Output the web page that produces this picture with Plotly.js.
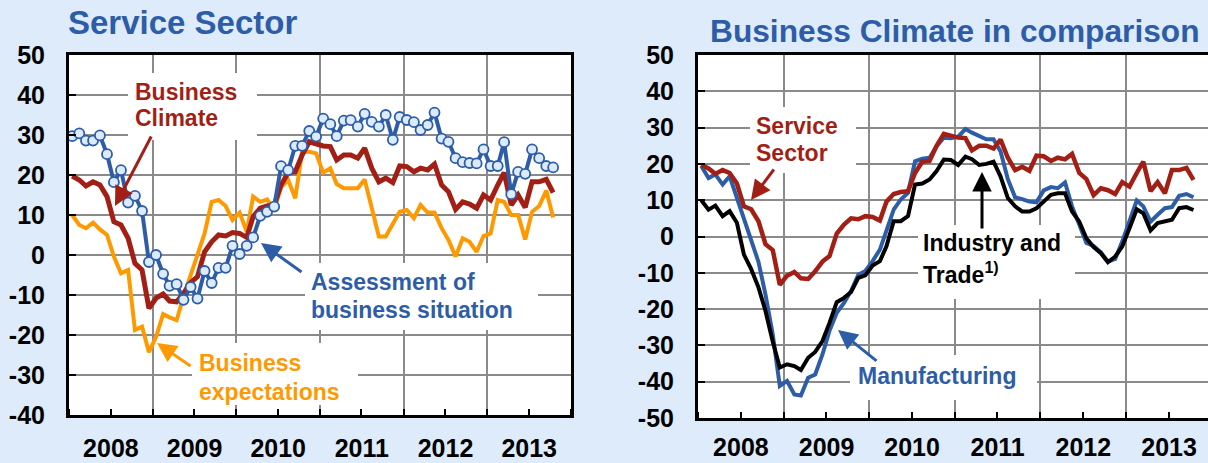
<!DOCTYPE html>
<html><head><meta charset="utf-8">
<script src="https://cdn.plot.ly/plotly-3.0.1.min.js"></script>
<style>html,body{margin:0;padding:0;background:#DDEBFA;overflow:hidden}</style>
</head><body><div id="chart" style="width:1208px;height:463px"></div>
<script>
// ---- data (monthly, Jan 2008 .. Oct 2013) ----
const startYear = 2008;
const nMonths = 70;
const yearLabels = ['2008','2009','2010','2011','2012','2013'];

const businessClimate = [19.75,18.75,17.25,18.3,17.5,14.6,8.3,7.5,4.2,-2.1,-3.75,-13.3,
  -10.8,-9.75,-11.5,-11.7,-9.6,-6.9,-5.4,0.8,3.3,5,4.75,5.6,
  5.4,4.4,9.6,11.7,12.25,12.5,17.5,20.6,20.8,25,28.3,27.8,
  27.25,27.1,23.75,25,25,24.2,26.7,21.7,18.3,19.2,18.1,22.25,
  22.1,20.8,21.7,21.25,22.75,17.5,15.8,11.4,13.3,12.75,11.7,15,
  13.75,17.5,20.6,12.5,15,11.9,18.3,18.3,18.9,15.6];

const businessExpectations = [10,7.5,6.7,8.1,6.4,5,-0.4,-4.6,-3.75,-18.75,-17.9,-24.3,
  -20.5,-14.8,-15.6,-16.3,-10.4,-5,0,5.4,13.3,13.75,12.25,8.75,
  10.6,5.8,14.6,13.3,13.9,11.25,16.9,18.75,14.2,25.8,25.8,25.4,
  20.6,21.7,17.75,16.7,16.7,16.7,18.9,11.25,4.6,4.6,7.75,10.8,
  11.25,9.2,12.5,10.6,10.6,6.7,3.75,-0.4,4.2,3.3,0.8,4.75,
  5.4,13.75,13.3,10,10,3.9,10.8,12.25,16.1,9.4];

const businessSituation = [29.7,30.4,28.6,28.6,29.9,25.2,18.2,21.2,13.1,14.8,11,-1.75,
  0,-4.7,-7.7,-7.3,-11.2,-8,-10.9,-4,-7,-3.2,-3.2,2.3,
  0.25,2.3,4.4,9.8,10.8,12.1,22.2,21.2,27.3,27.3,31,29.6,
  34.1,32.7,29.7,33.6,33.7,32.1,35.3,33.3,32.1,35,28.8,34.5,
  33.75,33.2,31.25,32.5,35.6,29.1,28.3,24.2,23.2,23,22.9,26.4,
  22.25,22.25,28.2,15.2,20.8,20.3,26.4,24.2,22.25,21.9];

const serviceSector = businessClimate; // same ifo series, shown in both panels

const manufacturing = [19.4,16.1,17.1,14.3,16.6,10.6,5,-1,-7,-16,-27,-41.2,
  -39.8,-43.5,-43.8,-38.9,-38,-32.5,-26,-21,-18.3,-15,-10.5,-9.5,
  -6.8,-3.6,1.9,7.4,10.2,12,20.7,21.4,21.7,24.9,27.2,27.1,
  27.5,29.6,28.6,27.7,26.8,26.8,23.4,15.8,10.8,10.3,9.6,9.4,
  12.7,13.6,13.3,14.9,8.3,3.2,-1.8,-2.6,-4.4,-6.9,-6.2,-1.4,
  4.1,9.9,8.3,4.1,6,7.8,8.1,11.2,11.7,10.8];

const industryTrade = [10,7.4,8.5,5.6,7,3.8,-5,-9,-14,-20.5,-29,-36.1,
  -35.2,-35.7,-36.8,-33.4,-31.8,-28.8,-23.8,-18.1,-16.9,-15.3,-11.4,-10.7,
  -8,-6.8,-2.7,4.2,4.2,5.6,14.3,14.6,15.7,18,21.2,21.1,
  19.7,22,21.3,19.7,20,20.6,16.5,10.6,8.3,6.9,6.9,7.8,
  9.6,11.5,11.9,11.9,6.9,4.1,-0.5,-2.9,-4.6,-7.1,-5.5,-2.8,
  2.3,7.5,6.4,1.7,3.7,4.1,4.6,7.8,8.1,7.3];

const leftTickVals = [-40,-30,-20,-10,0,10,20,30,40,50];
const leftTickText = ['-40','-30','-20','-10','0','10','20','30','40','50'];
const rightTickVals = [-50,-40,-30,-20,-10,0,10,20,30,40,50];
const rightTickText = ['-50','-40','-30','-20','-10','0','10','20','30','40','50'];

// month dates (mid-month)
const months = [];
for (let k = 0; k < nMonths; k++) {
  const y = startYear + Math.floor(k / 12);
  const m = (k % 12) + 1;
  months.push(y + '-' + String(m).padStart(2, '0') + '-15');
}

// ---- styling ----
const W = 1208, H = 463;
const RED = '#A21F16', ORANGE = '#FF9900', BLUE = '#2E5DA8', BLACK = '#000000';
const GRID = '#8A8A8A';
const FONT = 'Liberation Sans, Arial, sans-serif';
const px = v => v / W;
const py = v => 1 - v / H;

function xAxis(extra) {
  return Object.assign({
    type: 'date', tickmode: 'linear', tick0: '2008-01-01', dtick: 'M12',
    ticklabelmode: 'period', tickformat: '%Y',
    showgrid: true, gridcolor: GRID, gridwidth: 2,
    ticks: 'inside', ticklen: 6, tickwidth: 2, tickcolor: BLACK,
    minor: {dtick: 'M6', tick0: '2008-01-01', ticks: 'inside', ticklen: 6, tickwidth: 2, tickcolor: BLACK, showgrid: false},
    showline: true, linecolor: BLACK, linewidth: 3, mirror: true,
    tickfont: {family: FONT, size: 25, color: BLACK, weight: 'bold'},
    ticklabelstandoff: 9, zeroline: false, fixedrange: true
  }, extra);
}
function yAxis(extra) {
  return Object.assign({
    tickmode: 'array', showgrid: true, gridcolor: GRID, gridwidth: 2,
    ticks: 'inside', ticklen: 7, tickwidth: 2, tickcolor: BLACK,
    showline: true, linecolor: BLACK, linewidth: 3,
    tickfont: {family: FONT, size: 25, color: BLACK, weight: 'bold'},
    ticklabelstandoff: 16, zeroline: false, fixedrange: true
  }, extra);
}

const traces = [
  {x: months, y: businessExpectations, xaxis: 'x', yaxis: 'y', mode: 'lines',
   line: {color: ORANGE, width: 4}, name: 'Business expectations'},
  {x: months, y: businessClimate, xaxis: 'x', yaxis: 'y', mode: 'lines',
   line: {color: RED, width: 5}, name: 'Business Climate'},
  {x: months, y: businessSituation, xaxis: 'x', yaxis: 'y', mode: 'lines+markers',
   line: {color: BLUE, width: 4}, cliponaxis: false,
   marker: {symbol: 'circle', size: 10, color: '#DCEBFB', line: {color: BLUE, width: 1.8}},
   name: 'Assessment of business situation'},
  {x: months, y: manufacturing, xaxis: 'x2', yaxis: 'y2', mode: 'lines',
   line: {color: BLUE, width: 4}, name: 'Manufacturing'},
  {x: months, y: industryTrade, xaxis: 'x2', yaxis: 'y2', mode: 'lines',
   line: {color: BLACK, width: 4}, name: 'Industry and Trade'},
  {x: months, y: serviceSector, xaxis: 'x2', yaxis: 'y2', mode: 'lines',
   line: {color: RED, width: 4.5}, name: 'Service Sector'}
];

function label(text, left, cy, color, size) {
  return {xref: 'paper', yref: 'paper', x: px(left), y: py(cy), xanchor: 'left', yanchor: 'middle',
    text: text, showarrow: false, font: {family: FONT, size: size || 23, color: color, weight: 'bold'}};
}
function arrow(headX, headY, tailX, tailY, color) {
  return {xref: 'paper', yref: 'paper', x: px(headX), y: py(headY), ax: tailX - headX, ay: tailY - headY,
    text: '', showarrow: true, arrowhead: 2, arrowsize: 1.3, arrowwidth: 3, arrowcolor: color};
}
function box(x0, y0, x1, y1) {
  return {type: 'rect', xref: 'paper', yref: 'paper', x0: px(x0), x1: px(x1), y0: py(y1), y1: py(y0),
    fillcolor: '#FFFFFF', line: {width: 0}, layer: 'above'};
}

const layout = {
  width: W, height: H, margin: {l: 0, r: 0, t: 0, b: 0},
  paper_bgcolor: '#DDEBFA', plot_bgcolor: '#FFFFFF', showlegend: false,
  xaxis: xAxis({domain: [px(69), px(571)], range: ['2008-01-01', '2014-01-01'], anchor: 'y'}),
  yaxis: yAxis({domain: [py(415), py(55)], range: [-40, 50], tickvals: leftTickVals, ticktext: leftTickText, anchor: 'x', mirror: true}),
  xaxis2: xAxis({domain: [px(698), 1], range: ['2008-01-01', '2013-12-16'], anchor: 'y2', ticklabelstandoff: 5}),
  yaxis2: yAxis({domain: [py(418), py(55)], range: [-50, 50], tickvals: rightTickVals, ticktext: rightTickText, anchor: 'x2', mirror: false}),
  shapes: [
    box(128, 73, 257, 140),
    box(305, 263, 538, 330),
    box(192, 343, 358, 405),
    box(750, 107, 856, 173),
    box(918, 225, 1075, 299),
    box(850, 355, 1037, 400)
  ],
  annotations: [
    label('Service Sector', 66, 22, BLUE, 33),
    label('Business Climate in comparison', 708, 31, BLUE, 31.7),
    label('Business', 133, 92, RED),
    label('Climate', 133, 118, RED),
    label('Assessment of', 309, 282, BLUE),
    label('business situation', 309, 310, BLUE),
    label('Business', 197, 363, ORANGE),
    label('expectations', 197, 392, ORANGE),
    label('Service', 754, 126, RED),
    label('Sector', 754, 153, RED),
    label('Industry and', 921, 243, BLACK),
    label('Trade<sup>1)</sup>', 921, 273, BLACK),
    label('Manufacturing', 856, 376, BLUE),
    arrow(115, 206, 152, 135, RED),
    arrow(261, 243, 303, 273, BLUE),
    arrow(157, 343, 192, 367, ORANGE),
    arrow(751, 200, 775, 168, RED),
    arrow(982, 172, 982, 230, BLACK),
    arrow(838, 330, 878, 362, BLUE)
  ]
};

Plotly.newPlot('chart', traces, layout, {displayModeBar: false, staticPlot: true});
</script>
</body></html>
